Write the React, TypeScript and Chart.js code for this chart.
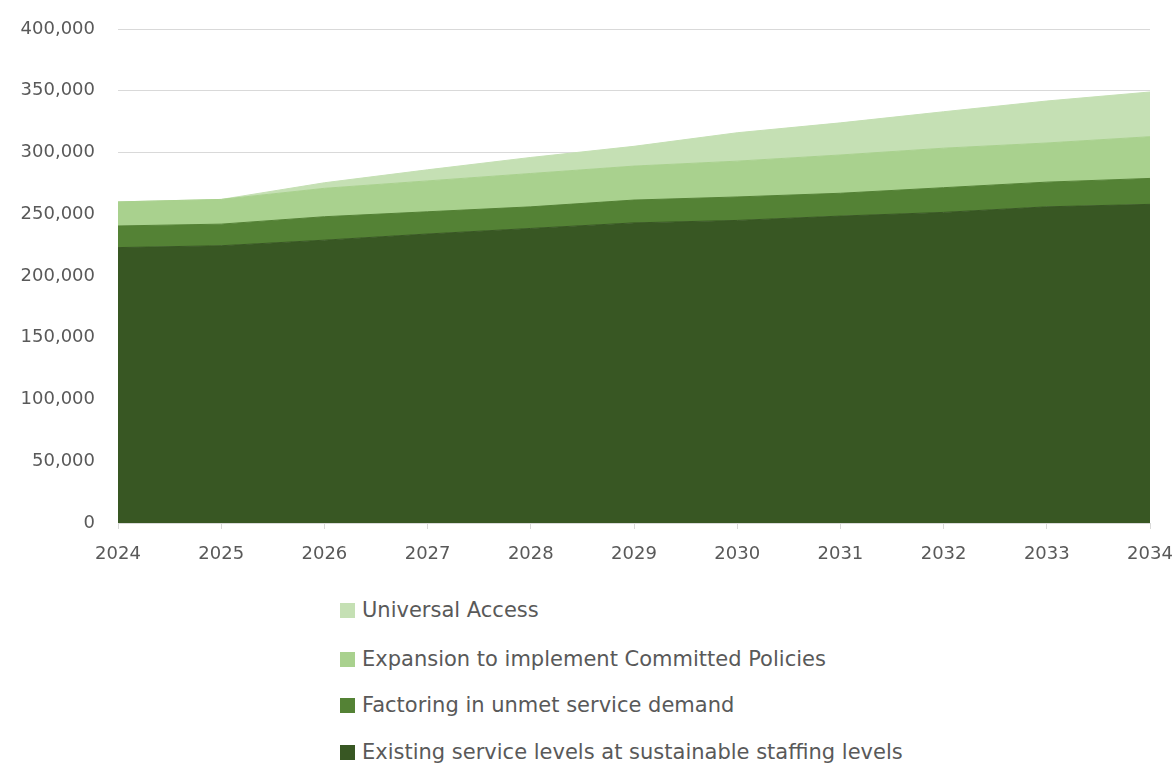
import React, { useEffect, useRef } from "react";
import { Chart, registerables } from "chart.js";

Chart.register(...registerables);

const years = ["2024", "2025", "2026", "2027", "2028", "2029", "2030", "2031", "2032", "2033", "2034"];
const existingLevels = [223000, 224500, 229000, 234000, 238500, 243000, 245000, 248500, 251500, 256000, 258000];
const unmetDemand = [17500, 17500, 19000, 18000, 17500, 18500, 19000, 18500, 20000, 20000, 21000];
const committedPolicies = [19500, 20000, 23000, 25000, 27000, 27500, 29000, 31000, 32000, 31700, 33800];
const universalAccess = [0, 0, 4500, 9000, 13000, 16000, 23000, 26000, 29500, 34000, 36200];

const seriesNames = [
  "Existing service levels at sustainable staffing levels",
  "Factoring in unmet service demand",
  "Expansion to implement Committed Policies",
  "Universal Access",
];
const seriesColors = ["#385723", "#548235", "#A9D18E", "#C5E0B4"];
const yTicks = [0, 50000, 100000, 150000, 200000, 250000, 300000, 350000, 400000];

const FONT = "'DejaVu Sans', sans-serif";
const TEXT = "#595959";

export default function App() {
  const ref = useRef<HTMLCanvasElement>(null);

  useEffect(() => {
    if (!ref.current) return;
    const values = [existingLevels, unmetDemand, committedPolicies, universalAccess];
    const chart = new Chart(ref.current, {
      type: "line",
      data: {
        labels: years,
        datasets: values.map((v, i) => ({
          label: seriesNames[i],
          data: v,
          backgroundColor: seriesColors[i],
          borderColor: seriesColors[i],
          borderWidth: 1,
          pointRadius: 0,
          tension: 0,
          fill: i === 0 ? "origin" : "-1",
        })),
      },
      options: {
        responsive: false,
        animation: false,
        devicePixelRatio: 1,
        layout: { padding: { left: 0, right: 26, top: 29, bottom: 0 } },
        plugins: {
          legend: { display: false },
          tooltip: { enabled: false },
        },
        scales: {
          x: {
            grid: { drawOnChartArea: false, drawTicks: true, tickLength: 6, color: "#d9d9d9" },
            border: { display: true, color: "#d9d9d9" },
            ticks: { color: TEXT, font: { family: FONT, size: 18 }, padding: 15, maxRotation: 0, autoSkip: false },
            afterFit: (s: any) => {
              s.height = 57;
              s.paddingLeft = 0;
              s.paddingRight = 0;
            },
          },
          y: {
            stacked: true,
            min: 0,
            max: 400000,
            afterBuildTicks: (s: any) => {
              s.ticks = yTicks.map((v) => ({ value: v }));
            },
            grid: { color: "#d9d9d9", drawTicks: false },
            border: { display: false },
            ticks: {
              color: TEXT,
              font: { family: FONT, size: 18 },
              padding: 23,
              callback: (v: any) => Number(v).toLocaleString("en-US"),
            },
            afterFit: (s: any) => {
              s.width = 118;
              s.paddingTop = 0;
              s.paddingBottom = 0;
            },
          },
        },
      },
    });
    return () => chart.destroy();
  }, []);

  const legendOrder = [3, 2, 1, 0];
  const legendY = [610, 659, 705, 752];

  return (
    <div style={{ position: "absolute", left: 0, top: 0, width: 1176, height: 764, background: "#fff", overflow: "hidden" }}>
      <canvas ref={ref} width={1176} height={580} style={{ position: "absolute", left: 0, top: 0, width: 1176, height: 580 }} />
      {legendOrder.map((idx, k) => (
        <div
          key={idx}
          style={{
            position: "absolute",
            left: 340,
            top: legendY[k] - 14,
            height: 28,
            display: "flex",
            alignItems: "center",
            whiteSpace: "nowrap",
            fontFamily: FONT,
            fontSize: 21,
            color: TEXT,
          }}
        >
          <span style={{ display: "inline-block", width: 15, height: 15, background: seriesColors[idx], marginRight: 7 }} />
          <span>{seriesNames[idx]}</span>
        </div>
      ))}
    </div>
  );
}
